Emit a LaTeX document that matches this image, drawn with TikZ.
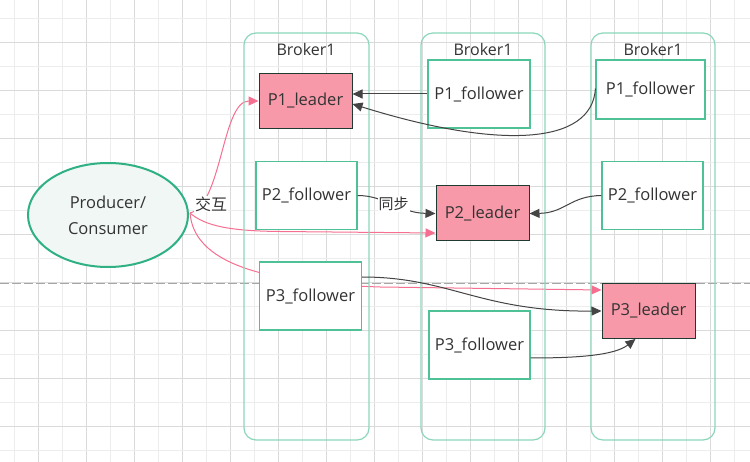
\documentclass[tikz,border=0pt]{standalone}
\usepackage{fontspec}
\setmainfont{Open Sans}
\newfontfamily\cjk{Noto Sans CJK SC}
\usetikzlibrary{arrows.meta,calc,shapes.geometric}
\pgfdeclarelayer{gridlayer}
\pgfdeclarelayer{pinklayer}
\pgfsetlayers{gridlayer,pinklayer,main}
\definecolor{gridlight}{HTML}{EDEDED}
\definecolor{griddark}{HTML}{DADADA}
\definecolor{brokerc}{HTML}{8CD6BA}
\definecolor{boxc}{HTML}{4FC197}
\definecolor{leaderfill}{HTML}{F799A9}
\definecolor{leaderdraw}{HTML}{1F3A32}
\definecolor{pinkc}{HTML}{F76F90}
\definecolor{darkc}{HTML}{444444}
\definecolor{txt}{HTML}{333333}
\definecolor{ellfill}{HTML}{F0F7F4}
\definecolor{elldraw}{HTML}{2FB184}
\begin{document}
\begin{tikzpicture}[x=1pt,y=-1pt,
  every node/.style={text=txt,font=\fontsize{16.5}{20}\selectfont},
  broker/.style={draw=brokerc,line width=1.2pt,rounded corners=12pt},
  follower/.style={draw=boxc,line width=1.1pt,fill=white,inner sep=0pt,align=center},
  leader/.style={draw=leaderdraw,line width=1pt,fill=leaderfill,inner sep=0pt,minimum width=93pt,minimum height=55pt},
  pinkarrow/.style={draw=pinkc,line width=1pt,-{Triangle[length=10pt,width=9pt]}},
  darkarrow/.style={draw=darkc,line width=1pt,-{Triangle[length=10pt,width=9pt]}},
  title/.style={font=\fontsize{16}{19}\selectfont}
]
\useasboundingbox (0,0) rectangle (750,462);
\begin{pgfonlayer}{gridlayer}
\fill[white] (0,0) rectangle (750,462);
\foreach \i in {0,...,30}{
  \ifodd\i
    \draw[griddark,line width=1pt] ({14.5+24*\i},0) -- ({14.5+24*\i},462);
  \else
    \draw[gridlight,line width=1pt] ({14.5+24*\i},0) -- ({14.5+24*\i},462);
  \fi
}
\foreach \i in {0,...,19}{
  \ifodd\i
    \draw[griddark,line width=1pt] (0,{18.5+24*\i}) -- (750,{18.5+24*\i});
  \else
    \draw[gridlight,line width=1pt] (0,{18.5+24*\i}) -- (750,{18.5+24*\i});
  \fi
}
\draw[gray!70,line width=1pt,dash pattern=on 9pt off 3pt] (0,283.5) -- (750,283.5);
\end{pgfonlayer}

% brokers
\draw[broker] (244,33) rectangle (369,440);
\draw[broker] (421,33) rectangle (545,440);
\draw[broker] (591,33) rectangle (715,440);
\node[title] (t1) at (306,50) {Broker1};
\node[title] (t2) at (483,50) {Broker1};
\node[title] (t3) at (653,50) {Broker1};

% partitions
\node[leader] (P1L) at (305.5,101) {P1\_leader};
\node[follower,minimum width=101pt,minimum height=68pt] (P2F1) at (306.5,195.5) {P2\_follower};
\node[follower,minimum width=102pt,minimum height=68pt] (P3F1) at (310.5,296) {P3\_follower};
\node[follower,minimum width=102pt,minimum height=68pt] (P1F2) at (479,94) {P1\_follower};
\node[leader] (P2L) at (482.5,213.5) {P2\_leader};
\node[follower,minimum width=101pt,minimum height=68pt] (P3F2) at (479.5,345) {P3\_follower};
\node[follower,minimum width=109pt,minimum height=59pt] (P1F3) at (650.5,89.5) {P1\_follower};
\node[follower,minimum width=101pt,minimum height=68pt] (P2F3) at (652.5,195.5) {P2\_follower};
\node[leader] (P3L) at (648.5,311) {P3\_leader};

% producer
\node[ellipse,draw=elldraw,line width=2pt,fill=ellfill,minimum width=160pt,minimum height=104pt,inner sep=0pt,align=center] (PC) at (108,215) {Producer/\\[6pt]Consumer};
\coordinate (S) at (190,213);

% pink arrows (behind boxes)
\begin{pgfonlayer}{pinklayer}
\draw[pinkarrow] (S) .. controls (222,205) and (222,101) .. (P1L.west);
\draw[pinkarrow] (S) .. controls (205,226) and (230,231) .. (280,231.5) -- ($(P2L.south west)+(0,-8.5)$);
\draw[pinkarrow] (S) .. controls (194,262) and (260,283) .. (380,287) -- ($(P3L.north west)+(0,7)$);
\end{pgfonlayer}
\node[fill=white,inner sep=1pt,font=\cjk\fontsize{16}{18}\selectfont] (jh) at (211,204) {交互};

% dark arrows
\draw[darkarrow] (P1F2.west) -- (P1F2.west -| P1L.east);
\draw[darkarrow] ($(P1F3.west)+(0,-1)$) .. controls (592,145) and (500,150) .. ($(P1L.east)+(0,3)$);
\draw[darkarrow] (P2F1.east) .. controls (385,195.5) and (400,213) .. (P2L.west)
  node[pos=0.5,fill=white,inner sep=1pt,font=\cjk\fontsize{15}{17}\selectfont] (tb) {同步};
\draw[darkarrow] (P2F3.west) .. controls (570,196) and (565,213) .. (P2L.east);
\draw[darkarrow] ($(P3F1.east)+(0,-19)$) .. controls (450,277) and (480,312) .. (P3L.west);
\draw[darkarrow] ($(P3F2.east)+(0,13)$) .. controls (580,358) and (615,355) .. ($(P3L.south)+(-13,0)$);
\end{tikzpicture}
\end{document}
